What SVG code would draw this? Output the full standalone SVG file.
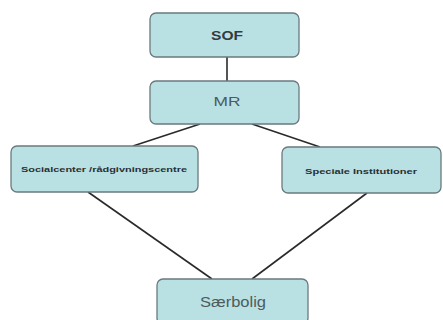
<svg xmlns="http://www.w3.org/2000/svg" width="443" height="320" viewBox="0 0 443 320">
<style>
.box{fill:#b9e1e4;stroke:#6a7a7d;stroke-width:1.3}
.t{font-family:"Liberation Sans",Arial,sans-serif;text-anchor:middle;fill:#4d5b5e}
.c{stroke:#2a2a2a;stroke-width:1.6;fill:none}
</style>
<rect width="443" height="320" fill="#ffffff"/>
<g id="connectors">
<line class="c" x1="227" y1="57" x2="227" y2="81"/>
<line class="c" x1="200" y1="124" x2="133" y2="146"/>
<line class="c" x1="252" y1="124" x2="320" y2="147"/>
<line class="c" x1="88" y1="192" x2="212" y2="279"/>
<line class="c" x1="367" y1="193" x2="252" y2="279"/>
</g>
<g id="sof">
<rect class="box" x="150" y="13" width="149" height="44" rx="6"/>
<text class="t" x="227" y="40" font-size="12.5" font-weight="bold" textLength="32" lengthAdjust="spacingAndGlyphs" style="fill:#333b3d">SOF</text>
</g>
<g id="mr">
<rect class="box" x="150" y="81" width="149" height="43" rx="6"/>
<text class="t" x="227" y="106" font-size="13.5" textLength="27" lengthAdjust="spacingAndGlyphs">MR</text>
</g>
<g id="socialcenter">
<rect class="box" x="11" y="146" width="187" height="46" rx="6"/>
<text class="t" x="104" y="172" font-size="8" font-weight="bold" textLength="166" lengthAdjust="spacingAndGlyphs" style="fill:#2a3032">Socialcenter /rådgivningscentre</text>
</g>
<g id="speciale">
<rect class="box" x="282" y="147" width="159" height="46" rx="6"/>
<text class="t" x="361" y="174" font-size="8" font-weight="bold" textLength="112" lengthAdjust="spacingAndGlyphs" style="fill:#2a3032">Speciale Institutioner</text>
</g>
<g id="saerbolig">
<rect class="box" x="157" y="279" width="151" height="45" rx="6"/>
<text class="t" x="233" y="307" font-size="14" textLength="66" lengthAdjust="spacingAndGlyphs">Særbolig</text>
</g>
</svg>
